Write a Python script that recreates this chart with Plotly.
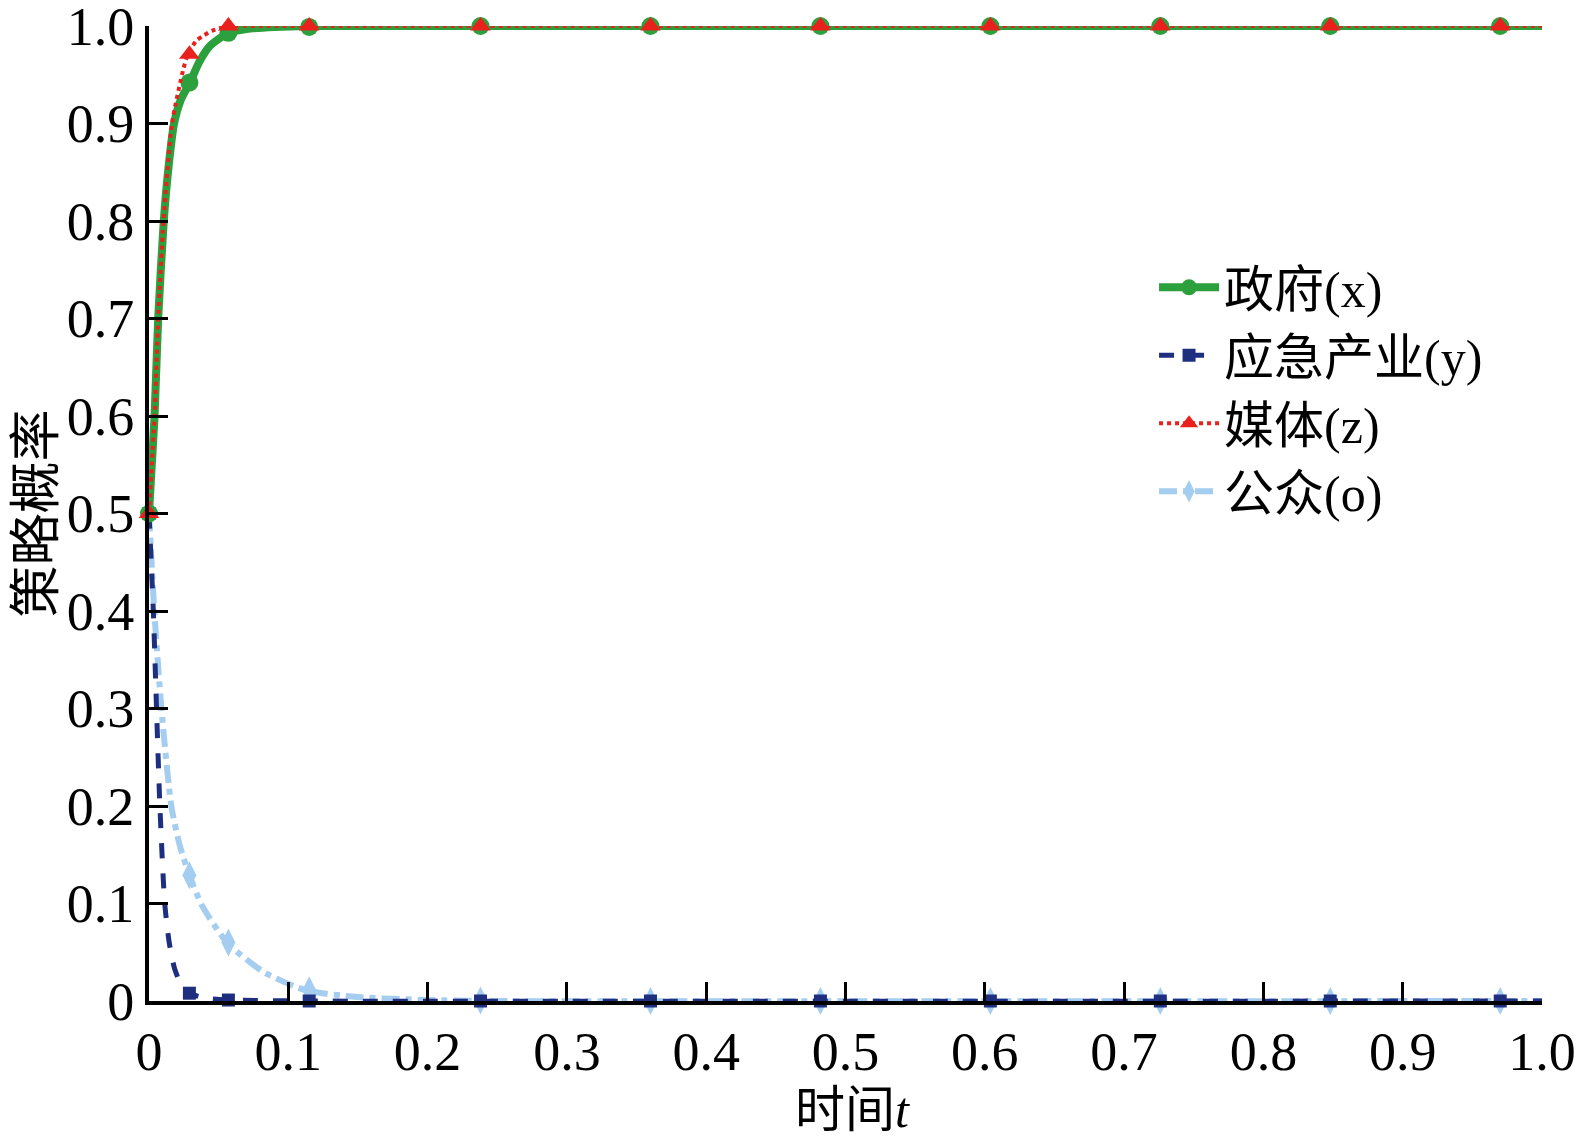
import plotly.graph_objects as go

# ---- data ----
tick_vals = [0, 0.1, 0.2, 0.3, 0.4, 0.5, 0.6, 0.7, 0.8, 0.9, 1.0]
tick_text = ["0", "0.1", "0.2", "0.3", "0.4", "0.5", "0.6", "0.7", "0.8", "0.9", "1.0"]

names = ["政府(x)", "应急产业(y)", "媒体(z)", "公众(o)"]
x_title = "时间<i>t</i>"
y_title = "策略概率"

# curve samples (time, value)
gov_t = [0, 0.002, 0.004, 0.0066, 0.0106, 0.014, 0.018, 0.023, 0.0294, 0.036, 0.044, 0.057, 0.07, 0.09, 0.115, 0.2, 1.0]
gov_v = [0.5, 0.55, 0.6, 0.7, 0.8, 0.855, 0.9, 0.925, 0.942, 0.963, 0.98, 0.993, 0.997, 0.999, 1.0, 1.0, 1.0]

ind_t = [0, 0.0031, 0.0054, 0.0078, 0.0113, 0.0145, 0.0184, 0.023, 0.029, 0.04, 0.058, 0.115, 1.0]
ind_v = [0.5, 0.4, 0.3, 0.2, 0.1, 0.06, 0.033, 0.017, 0.008, 0.003, 0.001, 0.0, 0.0]

med_t = [0, 0.002, 0.004, 0.0066, 0.0104, 0.0165, 0.0247, 0.028, 0.034, 0.039, 0.045, 0.057, 0.08, 1.0]
med_v = [0.5, 0.55, 0.6, 0.7, 0.8, 0.9, 0.956, 0.971, 0.985, 0.99, 0.995, 1.0, 1.0, 1.0]

pub_t = [0, 0.0038, 0.0089, 0.016, 0.022, 0.029, 0.038, 0.056, 0.082, 0.1125, 0.15, 0.2, 0.24, 1.0]
pub_v = [0.5, 0.4, 0.3, 0.2, 0.16, 0.129, 0.098, 0.06, 0.03, 0.011, 0.004, 0.001, 0.0, 0.0]

# marker (solver step) positions
mk_t = [0, 0.029, 0.057, 0.115, 0.238, 0.360, 0.482, 0.604, 0.726, 0.848, 0.970]
gov_mk = [0.5, 0.942, 0.993, 0.999, 1.0, 1.0, 1.0, 1.0, 1.0, 1.0, 1.0]
ind_mk = [0.5, 0.008, 0.001, 0.0, 0.0, 0.0, 0.0, 0.0, 0.0, 0.0, 0.0]
med_mk = [0.5, 0.971, 1.0, 1.0, 1.0, 1.0, 1.0, 1.0, 1.0, 1.0, 1.0]
pub_mk = [0.5, 0.129, 0.06, 0.011, 0.0005, 0.0, 0.0, 0.0, 0.0, 0.0, 0.0]

FONT = "Liberation Serif, Times New Roman, Noto Sans CJK SC, serif"

styles = [
    dict(color="#2ca03c", width=8, dash="solid", symbol="circle", size=18),
    dict(color="#1f2f80", width=5, dash="dash", symbol="square", size=13),
    dict(color="#e8211d", width=4, dash="dot", symbol="triangle-up", size=18),
    dict(color="#a4cdf0", width=6, dash="dashdot", symbol="diamond-tall", size=20),
]
curves = [(gov_t, gov_v, gov_mk), (ind_t, ind_v, ind_mk), (med_t, med_v, med_mk), (pub_t, pub_v, pub_mk)]

fig = go.Figure()
order = [3, 1, 0, 2]  # draw light blue and navy first, red on top
for i in order:
    t, v, mk = curves[i]
    s = styles[i]
    fig.add_trace(go.Scatter(x=t, y=v, mode="lines", line=dict(color=s["color"], width=s["width"], dash=s["dash"], shape="spline", smoothing=0.6),
                             showlegend=False, hoverinfo="skip", cliponaxis=False))
    fig.add_trace(go.Scatter(x=mk_t, y=mk, mode="markers", marker=dict(color=s["color"], symbol=s["symbol"], size=s["size"]),
                             showlegend=False, cliponaxis=False))

for i, n in enumerate(names):
    s = styles[i]
    fig.add_trace(go.Scatter(x=[None], y=[None], mode="lines+markers", name=n,
                             line=dict(color=s["color"], width=s["width"], dash=s["dash"]),
                             marker=dict(color=s["color"], symbol=s["symbol"], size=s["size"])))

axis_common = dict(showgrid=False, zeroline=False, showline=True, linecolor="black", linewidth=4,
                   ticks="inside", ticklen=19, tickwidth=3, tickcolor="black",
                   tickfont=dict(family=FONT, size=54, color="black"), range=[0, 1],
                   tickvals=tick_vals, ticktext=tick_text, mirror=False,
                   automargin=False, ticklabeloverflow="allow")

fig.update_layout(
    width=1586, height=1138,
    margin=dict(l=141, r=52, t=18, b=145),
    plot_bgcolor="white", paper_bgcolor="white",
    font=dict(family=FONT, color="black"),
    xaxis=dict(**axis_common),
    yaxis=dict(**axis_common, title=dict(text=y_title, font=dict(family=FONT, size=52), standoff=4)),
    legend=dict(x=0.7215, y=0.772, xanchor="left", yanchor="top", bgcolor="rgba(0,0,0,0)",
                font=dict(family=FONT, size=50, color="black"), itemwidth=60, tracegroupgap=0),
    annotations=[dict(text=x_title, xref="paper", yref="paper", x=0.505, y=-0.112,
                      xanchor="center", yanchor="middle", showarrow=False,
                      font=dict(family=FONT, size=50, color="black"))],
)

fig.write_html("out.html")
